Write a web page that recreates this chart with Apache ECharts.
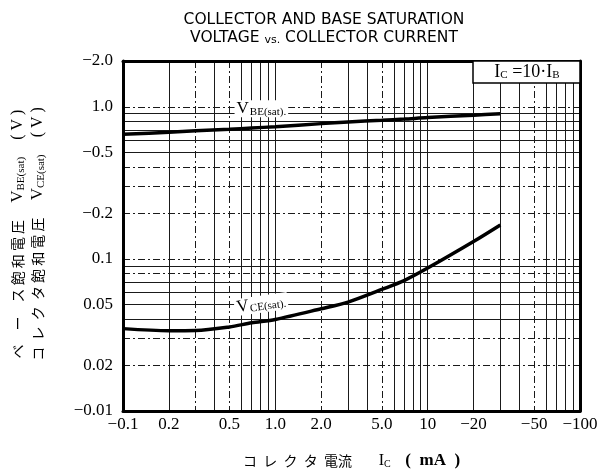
<!DOCTYPE html>
<html>
<head>
<meta charset="utf-8">
<script src="https://cdn.jsdelivr.net/npm/echarts@6/dist/echarts.min.js"></script>
<style>
html,body{margin:0;padding:0;background:#fff}
#main{width:601px;height:473px}
</style>
</head>
<body>
<div id="main"></div>
<script>
// collector current (mA)
var currentMA = [0.1, 0.2, 0.3, 0.5, 0.7, 1, 2, 3, 5, 7, 10, 20, 30];
// V_BE(sat) (V)
var vbeSat = [0.66, 0.68, 0.695, 0.712, 0.725, 0.74, 0.775, 0.795, 0.815, 0.83, 0.85, 0.88, 0.9];
// V_CE(sat) (V)
var vceSat = [0.0348, 0.0337, 0.0338, 0.0357, 0.038, 0.040, 0.047, 0.052, 0.063, 0.072, 0.087, 0.13, 0.167];

// tick labels
var xLabelValues = [0.1, 0.2, 0.5, 1, 2, 5, 10, 20, 50, 100];
var xLabelTexts = ['−0.1', '0.2', '0.5', '1.0', '2.0', '5.0', '10', '−20', '−50', '−100'];
var yLabelValues = [0.01, 0.02, 0.05, 0.1, 0.2, 0.5, 1, 2];
var yLabelTexts = ['−0.01', '0.02', '0.05', '0.1', '−0.2', '−0.5', '1.0', '−2.0'];

// grid lines (solid / dash-dot)
var xGridSolid = [0.2, 0.4, 0.6, 0.7, 0.8, 0.9, 1, 3, 4, 6, 7, 8, 9, 10, 20, 30, 40, 60, 70, 80, 90];
var xGridDash = [0.3, 0.5, 2, 5, 50];
var yGridSolid = [0.04, 0.05, 0.06, 0.07, 0.09, 0.5, 0.6, 0.7, 0.8, 0.9];
var yGridDash = [0.02, 0.03, 0.08, 0.1, 0.2, 0.3, 0.4, 1];

function pickLabel(values, texts) {
  return function (v) {
    for (var i = 0; i < values.length; i++) {
      if (Math.abs(v - values[i]) / values[i] < 1e-6) return texts[i];
    }
    return '';
  };
}

var serif = 'Liberation Serif';
var cjk = '"Noto Sans CJK JP"';
var gridLine = {color: '#1a1a1a', width: 1};
var dashLine = {color: '#1a1a1a', width: 1, type: [7, 3, 2, 3]};
var border = {color: '#000', width: 3};

var chart = echarts.init(document.getElementById('main'));

function pairs(ys) {
  return currentMA.map(function (x, i) { return [x, ys[i]]; });
}

var subRich = {
  v: {fontFamily: serif, fontSize: 17, color: '#000'},
  s: {fontFamily: serif, fontSize: 11, color: '#000', verticalAlign: 'bottom', padding: [0, 0, 0, 1]}
};
var boxRich = {
  v: {fontFamily: serif, fontSize: 18, fill: '#000'},
  s: {fontFamily: serif, fontSize: 11, fill: '#000', verticalAlign: 'bottom'}
};
var sideRich = {
  k: {fontFamily: cjk, fontSize: 14, fill: '#000'},
  v: {fontFamily: serif, fontSize: 17, fill: '#000'},
  s: {fontFamily: serif, fontSize: 11, fill: '#000', verticalAlign: 'bottom'},
  p: {fontFamily: serif, fontSize: 16, fill: '#000'}
};

chart.setOption({
  animation: false,
  backgroundColor: '#fff',
  grid: {left: 123, right: 21, top: 61, bottom: 62, outerBoundsMode: 'none'},
  xAxis: [{
    type: 'log', min: 0.1, max: 100,
    axisLine: {show: true, lineStyle: border},
    axisTick: {show: false, customValues: xGridSolid},
    axisLabel: {customValues: xLabelValues, formatter: pickLabel(xLabelValues, xLabelTexts),
      margin: 5, color: '#000', fontFamily: serif, fontSize: 17},
    splitLine: {show: true, customValues: xGridSolid, lineStyle: gridLine},
    name: '{k|コ  レ  ク  タ  電流}{g|　　 }{v|I}{s|C}{g|　 }{m|(  mA  )}',
    nameLocation: 'middle', nameGap: 41,
    nameTextStyle: {rich: {
      k: {fontFamily: cjk, fontSize: 14, color: '#000'},
      g: {fontFamily: cjk, fontSize: 12, color: '#000'},
      v: {fontFamily: serif, fontSize: 16, color: '#000'},
      s: {fontFamily: serif, fontSize: 10, color: '#000', verticalAlign: 'bottom'},
      m: {fontFamily: serif, fontSize: 17, fontWeight: 'bold', color: '#000'}
    }}
  }, {
    type: 'log', min: 0.1, max: 100, position: 'top',
    axisLine: {show: true, lineStyle: border},
    axisTick: {show: false, customValues: xGridDash},
    axisLabel: {show: false},
    splitLine: {show: true, customValues: xGridDash, lineStyle: dashLine}
  }],
  yAxis: [{
    type: 'log', min: 0.01, max: 2,
    axisLine: {show: true, lineStyle: border},
    axisTick: {show: false, customValues: yGridSolid},
    axisLabel: {customValues: yLabelValues, formatter: pickLabel(yLabelValues, yLabelTexts),
      margin: 10, color: '#000', fontFamily: serif, fontSize: 17},
    splitLine: {show: true, customValues: yGridSolid, lineStyle: gridLine}
  }, {
    type: 'log', min: 0.01, max: 2, position: 'right',
    axisLine: {show: true, lineStyle: border},
    axisTick: {show: false, customValues: yGridDash},
    axisLabel: {show: false},
    splitLine: {show: true, customValues: yGridDash, lineStyle: dashLine}
  }],
  series: [{
    name: 'VBE(sat)', type: 'line', data: pairs(vbeSat),
    smooth: 0.3, showSymbol: false, z: 5,
    lineStyle: {color: '#000', width: 3.5},
    markPoint: {
      symbol: 'circle', symbolSize: 0,
      label: {show: true, position: 'right', distance: 0, formatter: '{v|V}{s|BE(sat).}',
        backgroundColor: '#fff', padding: [0, 2, 0, 2], rich: subRich},
      data: [{coord: [0.54, 0.97]}]
    }
  }, {
    name: 'VCE(sat)', type: 'line', data: pairs(vceSat),
    smooth: 0.3, showSymbol: false, z: 5,
    lineStyle: {color: '#000', width: 3.5},
    markPoint: {
      symbol: 'circle', symbolSize: 0,
      label: {show: true, position: 'right', distance: 0, rotate: 8, formatter: '{v|V}{s|CE(sat).}',
        backgroundColor: '#fff', padding: [0, 2, 0, 2], rich: subRich},
      data: [{coord: [0.54, 0.0476]}]
    }
  }],
  graphic: [
    {type: 'text', x: 324, y: 20, style: {
      text: 'COLLECTOR AND BASE SATURATION', align: 'center', verticalAlign: 'middle',
      fontFamily: 'DejaVu Sans', fontSize: 15.5, fill: '#000'}},
    {type: 'text', x: 324, y: 38, style: {
      text: '{a|VOLTAGE }{b|vs.}{a| COLLECTOR CURRENT}', align: 'center', verticalAlign: 'middle',
      rich: {a: {fontFamily: 'DejaVu Sans', fontSize: 15.5}, b: {fontFamily: 'DejaVu Sans', fontSize: 11, verticalAlign: 'bottom'}},
      fill: '#000'}},
    {type: 'rect', z: 50, shape: {x: 473, y: 61, width: 107, height: 22},
      style: {fill: '#fff', stroke: '#000', lineWidth: 1.5}},
    {type: 'text', z: 51, x: 527, y: 72, style: {
      text: '{v|I}{s|C}{v| =10·I}{s|B}', align: 'center', verticalAlign: 'middle', rich: boxRich}},
    {type: 'text', x: 18, y: 234, rotation: Math.PI / 2, style: {
      text: '{k|ベ　ー　ス 飽 和 電 圧}{k|　 }{v|V}{s|BE(sat)}{k|　 }{p|( V )}', align: 'center', verticalAlign: 'middle',
      rich: sideRich}},
    {type: 'text', x: 38, y: 234, rotation: Math.PI / 2, style: {
      text: '{k|コ  レ  ク  タ 飽 和 電 圧}{k|　 }{v|V}{s|CE(sat)}{k|　 }{p|( V )}', align: 'center', verticalAlign: 'middle',
      rich: sideRich}}
  ]
});
</script>
</body>
</html>
